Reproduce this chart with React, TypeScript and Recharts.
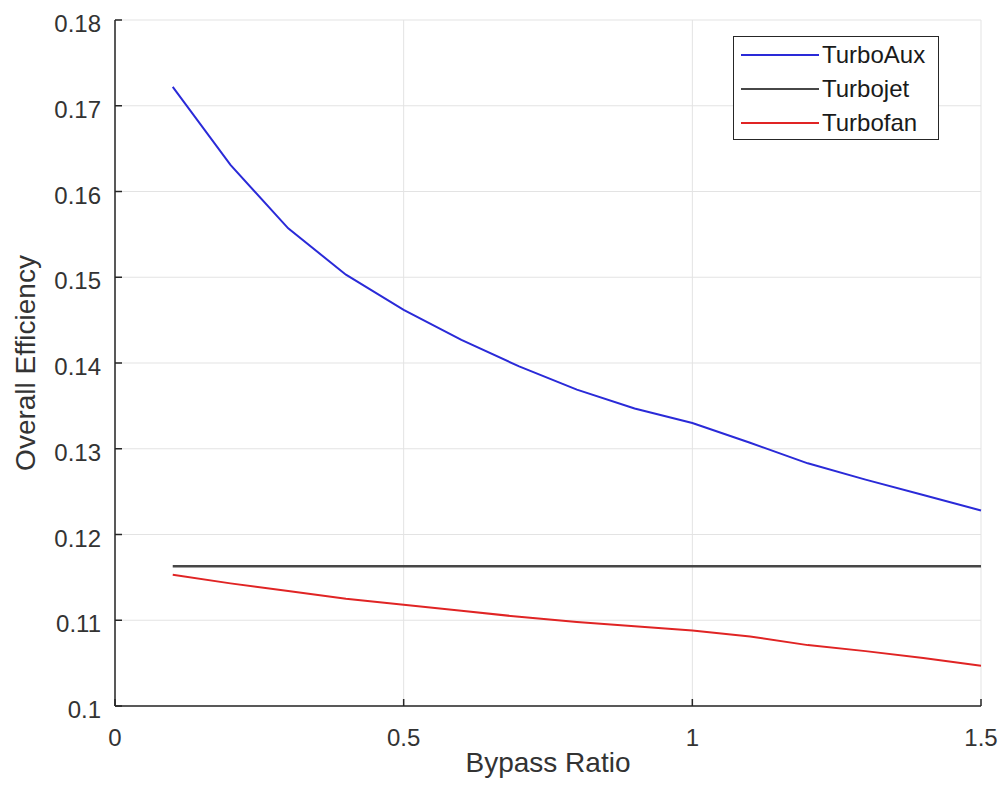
import { LineChart, Line, XAxis, YAxis, CartesianGrid, Legend } from "recharts";

const bypassRatio = [0.1, 0.2, 0.3, 0.4, 0.5, 0.6, 0.7, 0.8, 0.9, 1.0, 1.1, 1.2, 1.3, 1.4, 1.5];
const turboAux = [0.1722, 0.1631, 0.1557, 0.1503, 0.1462, 0.1427, 0.1396, 0.1369, 0.1347, 0.133, 0.1307, 0.1283, 0.1264, 0.1246, 0.1228];
const turbojet = [0.1163, 0.1163, 0.1163, 0.1163, 0.1163, 0.1163, 0.1163, 0.1163, 0.1163, 0.1163, 0.1163, 0.1163, 0.1163, 0.1163, 0.1163];
const turbofan = [0.1153, 0.1143, 0.1134, 0.1125, 0.1118, 0.1111, 0.1104, 0.1098, 0.1093, 0.1088, 0.1081, 0.1071, 0.1064, 0.1056, 0.1047];

const xTicks = [0, 0.5, 1, 1.5];
const xTickLabels = ["0", "0.5", "1", "1.5"];
const yTicks = [0.1, 0.11, 0.12, 0.13, 0.14, 0.15, 0.16, 0.17, 0.18];
const yTickLabels = ["0.1", "0.11", "0.12", "0.13", "0.14", "0.15", "0.16", "0.17", "0.18"];

const seriesNames = ["TurboAux", "Turbojet", "Turbofan"];
const seriesColors = ["#2a2ad8", "#474747", "#e02424"];

const data = bypassRatio.map((b, i) => ({
  b,
  aux: turboAux[i],
  jet: turbojet[i],
  fan: turbofan[i],
}));

const FONT = "'Liberation Sans', Arial, sans-serif";
const TEXT = "#333333";

// matlab style: ticks point inward
const XTick = (props: any) => {
  const { x, y, payload } = props;
  const idx = xTicks.indexOf(payload.value);
  return (
    <g>
      <line x1={x} y1={y - 12} x2={x} y2={y - 19} stroke="#262626" strokeWidth={1.5} />
      <text x={x} y={y + 28} textAnchor="middle" fontSize={24} fill={TEXT} fontFamily={FONT}>
        {xTickLabels[idx] ?? payload.value}
      </text>
    </g>
  );
};

const YTick = (props: any) => {
  const { x, y, payload } = props;
  const idx = yTicks.findIndex((t) => Math.abs(t - payload.value) < 1e-9);
  return (
    <g>
      <line x1={x + 14} y1={y} x2={x + 21} y2={y} stroke="#262626" strokeWidth={1.5} />
      <text x={x} y={y + 12} textAnchor="end" fontSize={24} fill={TEXT} fontFamily={FONT}>
        {yTickLabels[idx] ?? payload.value}
      </text>
    </g>
  );
};

const LegendBox = () => (
  <div
    style={{
      position: "absolute",
      left: 733,
      top: 36,
      width: 206,
      height: 104,
      border: "1.5px solid #262626",
      background: "#ffffff",
      boxSizing: "border-box",
      fontFamily: FONT,
      fontSize: 24,
      color: "#1a1a1a",
      paddingTop: 1,
    }}
  >
    {seriesNames.map((n, i) => (
      <div key={n} style={{ display: "flex", alignItems: "center", height: 34 }}>
        <div style={{ width: 78, height: 0, borderTop: `2px solid ${seriesColors[i]}`, marginLeft: 7, marginRight: 3 }} />
        <span>{n}</span>
      </div>
    ))}
  </div>
);

export default function App() {
  return (
    <div style={{ position: "absolute", left: 0, top: 0, width: 1008, height: 796, background: "#fff" }}>
      <LineChart
        width={1008}
        height={796}
        data={data}
        margin={{ top: 20, right: 27, bottom: 0, left: 0 }}
      >
        <CartesianGrid stroke="#e3e3e3" strokeWidth={1} />
        <XAxis
          dataKey="b"
          type="number"
          domain={[0, 1.5]}
          ticks={xTicks}
          tick={<XTick />}
          height={90}
          tickSize={0}
          tickMargin={12}
          stroke="#262626"
          strokeWidth={1.5}
          tickLine={false}
          label={{ value: "Bypass Ratio", position: "insideBottom", offset: 24, fontSize: 28, fill: TEXT, fontFamily: FONT }}
        />
        <YAxis
          type="number"
          domain={[0.1, 0.18]}
          ticks={yTicks}
          tick={<YTick />}
          width={115}
          tickSize={0}
          tickMargin={14}
          stroke="#262626"
          strokeWidth={1.5}
          tickLine={false}
          label={{ value: "Overall Efficiency", angle: -90, position: "insideLeft", offset: 25, fontSize: 28, fill: TEXT, fontFamily: FONT, style: { textAnchor: "middle" } }}
        />
        <Legend
          content={<LegendBox />}
          layout="horizontal"
          verticalAlign="middle"
          align="center"
          wrapperStyle={{ position: "absolute", left: 0, top: 0, width: 0, height: 0 }}
        />
        <Line dataKey="aux" name={seriesNames[0]} stroke={seriesColors[0]} strokeWidth={2} dot={false} isAnimationActive={false} />
        <Line dataKey="jet" name={seriesNames[1]} stroke={seriesColors[1]} strokeWidth={2.5} dot={false} isAnimationActive={false} />
        <Line dataKey="fan" name={seriesNames[2]} stroke={seriesColors[2]} strokeWidth={2} dot={false} isAnimationActive={false} />
      </LineChart>
    </div>
  );
}
